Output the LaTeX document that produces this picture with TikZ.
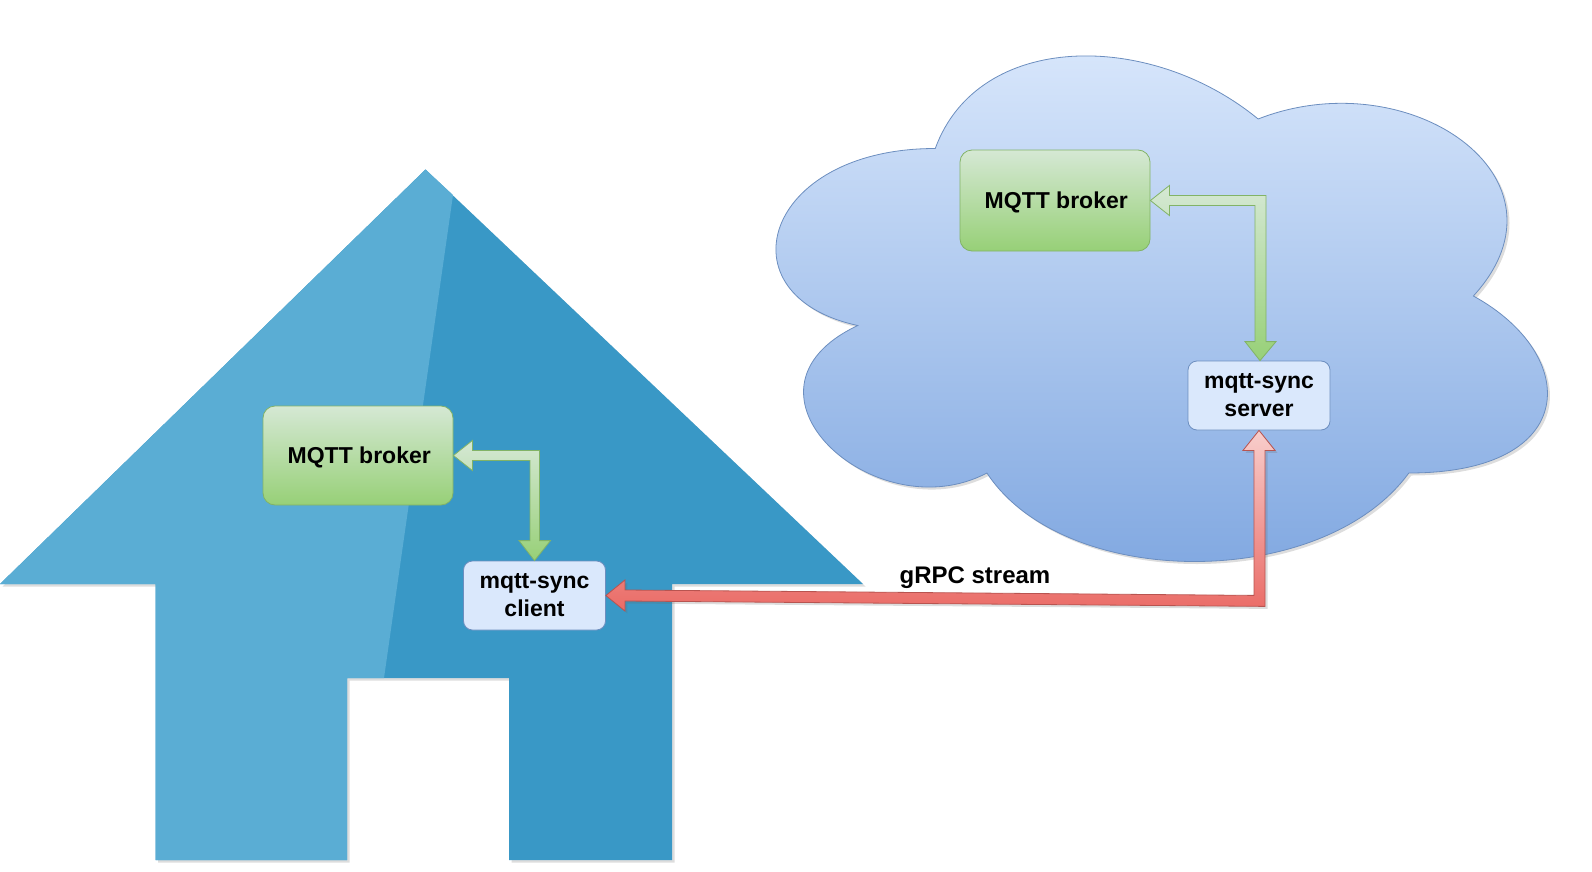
\documentclass[tikz,border=0pt]{standalone}
\usepackage{fontspec}
\setmainfont{Liberation Sans}
\usetikzlibrary{calc,shadows}

\definecolor{houseLight}{HTML}{5AADD4}
\definecolor{houseDark}{HTML}{3998C6}
\definecolor{cloudTop}{HTML}{DAE8FC}
\definecolor{cloudBottom}{HTML}{7EA6E0}
\definecolor{cloudLine}{HTML}{6C8EBF}
\definecolor{greenTop}{HTML}{D5E8D4}
\definecolor{greenBottom}{HTML}{97D077}
\definecolor{greenLine}{HTML}{82B366}
\definecolor{redTop}{HTML}{F8CECC}
\definecolor{redBottom}{HTML}{EA6B66}
\definecolor{redLine}{HTML}{B85450}

\tikzset{
    softshadow/.style={drop shadow={shadow xshift=2.5pt,shadow yshift=-2.5pt,opacity=0.22,fill=black!60}},
    boxtext/.style={font=\bfseries\fontsize{23}{28}\selectfont,align=center,inner sep=0pt},
    brokerbox/.style={boxtext,draw=greenLine,line width=0.8pt,top color=greenTop,bottom color=greenBottom,rounded corners=12pt,text height=18pt,text depth=2.5pt},
    syncbox/.style={boxtext,draw=cloudLine,line width=0.8pt,fill=cloudTop,rounded corners=9pt,minimum width=142pt,minimum height=69pt},
    greenarrow/.style={draw=greenLine,line width=0.8pt,top color=greenTop,bottom color=greenBottom},
    redarrow/.style={draw=redLine,line width=0.8pt,top color=redTop,bottom color=redBottom,softshadow},
}

\begin{document}
\begin{tikzpicture}[x=1pt,y=-1pt]
    \useasboundingbox (0,0) rectangle (1592,872);

    % House
    \fill[houseDark,softshadow] (425.5,169.5) -- (863,584) -- (672,584) -- (672,860) -- (509,860)
        -- (509,678) -- (347,678) -- (347,860) -- (155.5,860) -- (155.5,584) -- (0,584) -- cycle;
    \fill[houseLight] (425.5,169.5) -- (453,195) -- (384,678) -- (347,678) -- (347,860)
        -- (155.5,860) -- (155.5,584) -- (0,584) -- cycle;

    % Cloud
    \begin{scope}[shift={(720,1)},x=861pt,y=-590pt]
        \draw[draw=cloudLine,line width=0.8pt,top color=cloudTop,bottom color=cloudBottom,softshadow]
            (0.25,0.25) .. controls (0.05,0.25) and (0,0.5) .. (0.16,0.55)
            .. controls (0,0.66) and (0.18,0.9) .. (0.31,0.8)
            .. controls (0.4,1) and (0.7,1) .. (0.8,0.8)
            .. controls (1,0.8) and (1,0.6) .. (0.875,0.5)
            .. controls (1,0.3) and (0.8,0.1) .. (0.625,0.2)
            .. controls (0.5,0.05) and (0.3,0.05) .. (0.25,0.25) -- cycle;
    \end{scope}

    % Boxes
    \node[brokerbox,minimum width=190pt,minimum height=99pt] (brokerHome) at (358,455.5) {\hspace*{2.5pt}MQTT broker};
    \node[brokerbox,minimum width=190pt,minimum height=101pt] (brokerCloud) at (1055,200.5) {\hspace*{2.5pt}MQTT broker};
    \node[syncbox] (clientHome) at (534.5,595.5) {mqtt-sync\\client};
    \node[syncbox] (serverCloud) at (1259,395.5) {mqtt-sync\\server};

    % Arrows
    \draw[greenarrow] (brokerHome.east) -- ++(19,-15) -- ++(0,10)
        -| ($(clientHome.north)+(5,-20)$) -- ++(11,0) -- (clientHome.north)
        -- ($(clientHome.north)+(-15.5,-20)$) -- ++(11,0)
        |- ($(brokerHome.east)+(19,5)$) -- ++(0,10) -- cycle;
    \draw[greenarrow] (brokerCloud.east) -- ++(19,-15) -- ++(0,10)
        -| ($(serverCloud.north)+(7,-19)$) -- ++(10,0) -- ($(serverCloud.north)+(1,0)$)
        -- ($(serverCloud.north)+(-14,-19)$) -- ++(10,0)
        |- ($(brokerCloud.east)+(19,5)$) -- ++(0,10) -- cycle;
    \draw[redarrow] (clientHome.east) -- ++(19,-15.5) -- ++(0,10)
        -- ($(serverCloud.south)+(-5,165)$) -- ($(serverCloud.south)+(-5,20)$) -- ++(-11,0)
        -- (serverCloud.south) -- ($(serverCloud.south)+(16,20)$) -- ++(-10,0)
        -- ($(serverCloud.south)+(6,176)$) -- ($(clientHome.east)+(19,5.5)$) -- ++(0,10) -- cycle;

    % Stream label
    \node[boxtext,font=\bfseries\fontsize{24}{28}\selectfont] (streamLabel) at (975,578) {gRPC stream};
\end{tikzpicture}
\end{document}
